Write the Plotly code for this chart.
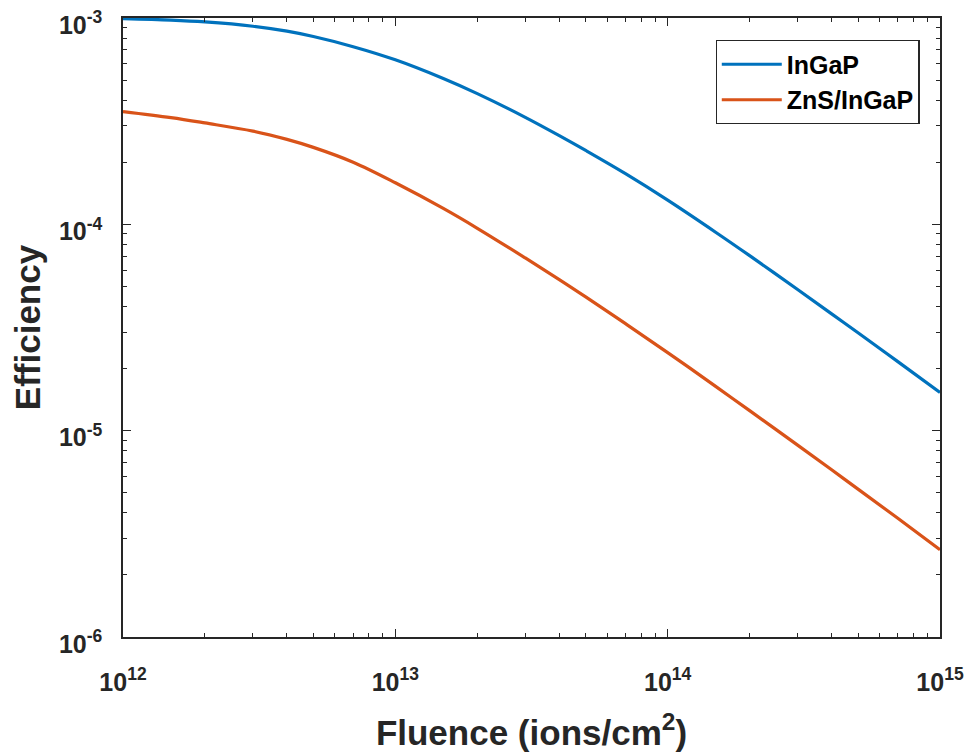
import plotly.graph_objects as go

fluence = [1e12, 1.5e12, 2e12, 3e12, 4e12, 5e12, 7e12,
           1e13, 1.5e13, 2e13, 3e13, 4e13, 5e13, 7e13,
           1e14, 1.5e14, 2e14, 3e14, 4e14, 5e14, 7e14, 1e15]
eff_ingap = [9.93e-4, 9.77e-4, 9.57e-4, 9.12e-4, 8.63e-4, 8.13e-4, 7.26e-4,
             6.27e-4, 5.09e-4, 4.30e-4, 3.30e-4, 2.69e-4, 2.28e-4, 1.76e-4,
             1.31e-4, 9.16e-5, 7.05e-5, 4.83e-5, 3.68e-5, 2.98e-5, 2.16e-5, 1.53e-5]
eff_zns_ingap = [3.52e-4, 3.29e-4, 3.10e-4, 2.83e-4, 2.58e-4, 2.36e-4, 2.00e-4,
                 1.59e-4, 1.194e-4, 9.57e-5, 6.87e-5, 5.40e-5, 4.45e-5, 3.30e-5,
                 2.39e-5, 1.64e-5, 1.25e-5, 8.51e-6, 6.46e-6, 5.21e-6, 3.76e-6, 2.65e-6]

x_tickvals = [1e12, 1e13, 1e14, 1e15]
x_ticktext = ["10<sup>12</sup>", "10<sup>13</sup>", "10<sup>14</sup>", "10<sup>15</sup>"]
y_tickvals = [1e-6, 1e-5, 1e-4, 1e-3]
y_ticktext = ["10<sup>-6</sup>", "10<sup>-5</sup>", "10<sup>-4</sup>", "10<sup>-3</sup>"]

FONT = "Liberation Sans, Arial, Helvetica, sans-serif"
AX = "#262626"

fig = go.Figure()
fig.add_trace(go.Scatter(x=fluence, y=eff_ingap, mode="lines", name="InGaP",
                         line=dict(color="#0072BD", width=3.2, shape="spline", smoothing=1.0)))
fig.add_trace(go.Scatter(x=fluence, y=eff_zns_ingap, mode="lines", name="ZnS/InGaP",
                         line=dict(color="#D95319", width=3.2, shape="spline", smoothing=1.0)))

axis_common = dict(
    type="log", showgrid=False, zeroline=False, automargin=False,
    showline=True, linecolor=AX, linewidth=1.5, mirror="ticks",
    ticks="inside", ticklen=8, tickwidth=1.2, tickcolor=AX,
    tickmode="array", ticklabeloverflow="allow",
    tickfont=dict(family=FONT, size=25, color=AX, weight="bold"),
    minor=dict(ticks="inside", ticklen=4.5, tickwidth=1.2, tickcolor=AX,
               showgrid=False, dtick="D1"),
)

fig.update_xaxes(**axis_common, range=[12, 15], tickvals=x_tickvals, ticktext=x_ticktext,
                 ticklabelstandoff=22,
                 title=dict(text="Fluence (ions/cm<sup>2</sup>)", standoff=30,
                            font=dict(family=FONT, size=35, color=AX, weight="bold")))
fig.update_yaxes(**axis_common, range=[-6, -3], tickvals=y_tickvals, ticktext=y_ticktext,
                 ticklabelstandoff=14, ticklabelshift=7,
                 title=dict(text="Efficiency", standoff=22,
                            font=dict(family=FONT, size=35, color=AX, weight="bold")))

fig.update_layout(
    width=964, height=744,
    margin=dict(l=115, r=32, t=10, b=115),
    paper_bgcolor="white", plot_bgcolor="white",
    legend=dict(x=0.975, y=0.964, xanchor="right", yanchor="top",
                bgcolor="white", bordercolor=AX, borderwidth=1.2,
                font=dict(family=FONT, size=25, color="#000000", weight="bold"),
                itemwidth=60, tracegroupgap=2),
)

fig.write_html("out.html")
